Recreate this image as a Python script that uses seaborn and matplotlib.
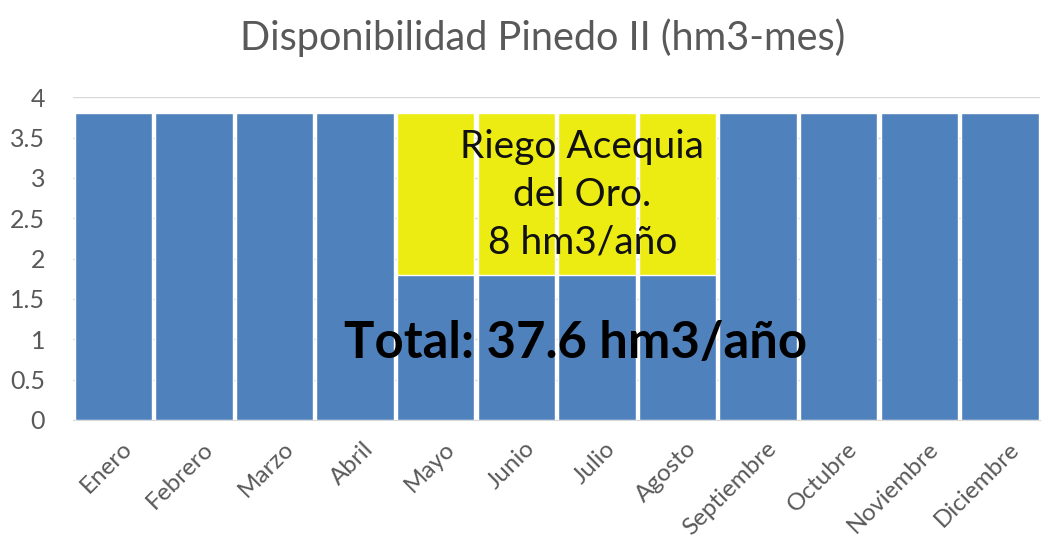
import pandas as pd
import seaborn as sns
import matplotlib.pyplot as plt
import matplotlib.transforms as mtransforms

meses = ['Enero', 'Febrero', 'Marzo', 'Abril', 'Mayo', 'Junio', 'Julio',
         'Agosto', 'Septiembre', 'Octubre', 'Noviembre', 'Diciembre']
disponible = [3.8, 3.8, 3.8, 3.8, 1.8, 1.8, 1.8, 1.8, 3.8, 3.8, 3.8, 3.8]
riego = [0, 0, 0, 0, 2.0, 2.0, 2.0, 2.0, 0, 0, 0, 0]

df = pd.DataFrame({'mes': meses, 'disponible': disponible, 'riego': riego})
df['total'] = df['disponible'] + df['riego']

sns.set_style('white')
plt.rcParams['font.family'] = ['Lato', 'DejaVu Sans']

fig = plt.figure(figsize=(10.49, 5.46), dpi=100)
ax = fig.add_axes([0.0696, 0.231, 0.922, 0.591])

gris = '#595959'
ax.set_axisbelow(True)
ax.yaxis.grid(True, color='#d9d9d9', linewidth=1)

sns.barplot(x='mes', y='total', data=df, color='#ecec13', width=0.96,
            saturation=1, ax=ax, zorder=2)
sns.barplot(x='mes', y='disponible', data=df, color='#4f81bd', width=0.96,
            saturation=1, ax=ax, zorder=3)

ax.set_ylim(0, 4)
ax.set_xlim(-0.5, 11.5)
ax.set_yticks([0, 0.5, 1, 1.5, 2, 2.5, 3, 3.5, 4])
ax.set_yticklabels(['0', '0.5', '1', '1.5', '2', '2.5', '3', '3.5', '4'])
ax.tick_params(axis='y', labelsize=18, colors=gris, length=0, pad=20)
ax.tick_params(axis='x', labelsize=17.5, colors=gris, length=0, pad=13)
desplazar = mtransforms.ScaledTranslation(8 / 100, 0, fig.dpi_scale_trans)
for lbl in ax.get_xticklabels():
    lbl.set_rotation(45)
    lbl.set_ha('right')
    lbl.set_rotation_mode('anchor')
    lbl.set_transform(lbl.get_transform() + desplazar)

ax.set_xlabel('')
ax.set_ylabel('')
sns.despine(ax=ax, left=True, top=True, right=True)
ax.spines['bottom'].set_color('#d9d9d9')

ax.text(5.82, 2.79, 'Riego Acequia\ndel Oro.\n8 hm3/año', ha='center', va='center',
        fontsize=28, color='#111111', linespacing=1.42, zorder=5)
ax.text(5.74, 0.95, 'Total: 37.6 hm3/año', ha='center', va='center',
        fontsize=36.5, fontweight='bold', color='black', zorder=5)

fig.suptitle('Disponibilidad Pinedo II (hm3-mes)', x=0.517, y=0.966,
             fontsize=28.5, color=gris)

fig.savefig('out.png', dpi=100)
